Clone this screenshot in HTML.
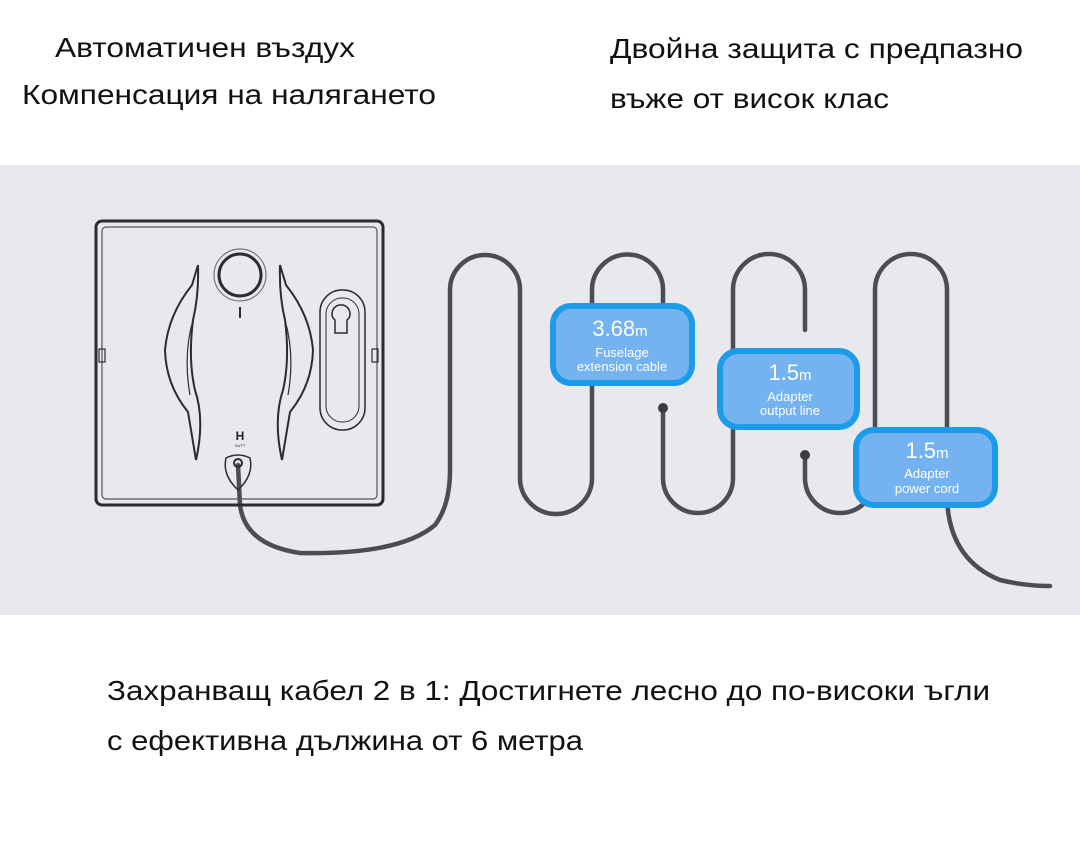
<!DOCTYPE html>
<html><head><meta charset="utf-8"><style>
html,body{margin:0;padding:0;background:#fff;}
svg{display:block}
</style></head><body>
<svg width="1080" height="846" viewBox="0 0 1080 846" xmlns="http://www.w3.org/2000/svg">
<rect x="0" y="0" width="1080" height="846" fill="#fff"/>
<rect x="0" y="165" width="1080" height="450" fill="#e9e9ed"/>
<g font-family="Liberation Sans, DejaVu Sans, sans-serif" font-size="28" fill="#111">
<text x="55" y="57" textLength="300" lengthAdjust="spacingAndGlyphs">Автоматичен въздух</text>
<text x="22" y="104" textLength="414" lengthAdjust="spacingAndGlyphs">Компенсация на налягането</text>
<text x="610" y="58" textLength="413" lengthAdjust="spacingAndGlyphs">Двойна защита с предпазно</text>
<text x="610" y="108" textLength="279" lengthAdjust="spacingAndGlyphs">въже от висок клас</text>
<text x="107" y="700" textLength="883" lengthAdjust="spacingAndGlyphs">Захранващ кабел 2 в 1: Достигнете лесно до по-високи ъгли</text>
<text x="107" y="750" textLength="476" lengthAdjust="spacingAndGlyphs">с ефективна дължина от 6 метра</text>
</g>
<g fill="none" stroke="#4a4d52" stroke-width="4.5" stroke-linecap="round">
<path d="M238 465 L240 505 Q245 545 300 553 Q400 555 435 525 Q450 505 450 470 L450 290 A35 35 0 0 1 520 290 L520 478 A36 36 0 0 0 592 478 L592 290 A35 35 0 0 1 663 290 L663 320"/>
<path d="M663 408 L663 478 A35 35 0 0 0 733 478 L733 290 A36 36 0 0 1 805 290 L805 330"/>
<path d="M805 455 L805 478 A35 35 0 0 0 875 478 L875 290 A36 36 0 0 1 947 290 L947 500 Q950 560 1000 580 Q1025 586 1050 586"/>
</g>
<circle cx="663" cy="408" r="5" fill="#3a3d42"/>
<circle cx="805" cy="455" r="5" fill="#3a3d42"/>
<g fill="none" stroke="#2a2c30">
<rect x="96" y="221" width="287" height="284" rx="6" stroke-width="3"/>
<rect x="102" y="227" width="275" height="272" rx="4" stroke-width="1.2" stroke="#555"/>
<rect x="99" y="349" width="6" height="13" stroke-width="1.2"/>
<rect x="372" y="349" width="6" height="13" stroke-width="1.2"/>
<circle cx="240" cy="275" r="26" stroke-width="1.2" stroke="#777"/>
<circle cx="240" cy="275" r="21" stroke-width="3"/>
<line x1="240" y1="307" x2="240" y2="318" stroke-width="2"/>
<path d="M198 265 L192 285 Q168 315 165 350 Q166 385 188 412 L196 460 Q205 420 195 390 Q188 360 193 320 Q199 295 198 265 Z" stroke-width="2"/>
<path d="M193 320 Q183 355 190 395" stroke-width="1.2"/>
<path d="M280 265 L286 285 Q310 315 313 350 Q312 385 290 412 L282 460 Q273 420 283 390 Q290 360 285 320 Q279 295 280 265 Z" stroke-width="2"/>
<path d="M285 320 Q295 355 288 395" stroke-width="1.2"/>
<rect x="320" y="290" width="45" height="140" rx="22" stroke-width="1.5"/>
<rect x="326" y="298" width="33" height="124" rx="16" stroke-width="1"/>
<path d="M333 318 A9 9 0 1 1 349 318 L347 320 L347 333 L335 333 L335 320 Z" stroke-width="1.5"/>
<path d="M226 458 Q238 452 250 458 Q254 475 238 490 Q222 475 226 458 Z" stroke-width="1.5"/>
<circle cx="238" cy="463" r="4" stroke-width="2"/>
</g>
<text x="240" y="440" font-family="Liberation Sans, sans-serif" font-size="12" font-weight="bold" text-anchor="middle" fill="#222">H</text>
<text x="240" y="447" font-family="Liberation Sans, sans-serif" font-size="4" text-anchor="middle" fill="#222">HUTT</text>
<g stroke="#1b9be8" stroke-width="6" fill="#74b3f0">
<rect x="553" y="306" width="139" height="77" rx="18"/>
<rect x="720" y="351" width="137" height="76" rx="18"/>
<rect x="856" y="430" width="139" height="75" rx="18"/>
</g>
<g font-family="Liberation Sans, DejaVu Sans, sans-serif" fill="#fff" text-anchor="middle">
<text x="620" y="336" font-size="22">3.68<tspan font-size="15">m</tspan></text>
<text x="622" y="357" font-size="13">Fuselage</text>
<text x="622" y="371" font-size="13">extension cable</text>
<text x="790" y="380" font-size="22">1.5<tspan font-size="15">m</tspan></text>
<text x="790" y="401" font-size="13">Adapter</text>
<text x="790" y="415" font-size="13">output line</text>
<text x="927" y="458" font-size="22">1.5<tspan font-size="15">m</tspan></text>
<text x="927" y="478" font-size="13">Adapter</text>
<text x="927" y="493" font-size="13">power cord</text>
</g>
</svg>
</body></html>
